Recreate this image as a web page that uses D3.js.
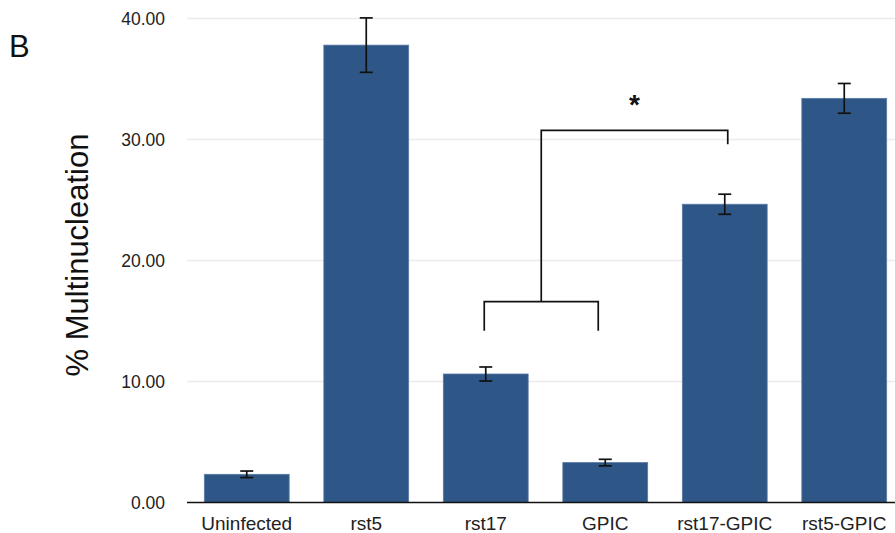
<!DOCTYPE html>
<html>
<head>
<meta charset="utf-8">
<script src="https://cdn.jsdelivr.net/npm/d3@7"></script>
<style>
  html, body { margin: 0; padding: 0; background: #fff; }
  svg { display: block; font-family: "Liberation Sans", Arial, Helvetica, sans-serif; }
</style>
</head>
<body>
<svg id="chart" width="895" height="533"></svg>
<script>
// Percentage of multinucleated cells per infection condition (mean ± error)
const categories = ["Uninfected", "rst5", "rst17", "GPIC", "rst17-GPIC", "rst5-GPIC"];
const means      = [2.33, 37.8, 10.62, 3.30, 24.65, 33.4];
const errors     = [0.27, 2.25, 0.58, 0.27, 0.83, 1.23];
const yTicks     = [0, 10, 20, 30, 40];

// Significance bracket: rst17 & GPIC grouped, compared against rst17-GPIC
const bracketGroup = ["rst17", "GPIC"];
const bracketTarget = "rst17-GPIC";
const bracketLevels = { groupLeg: 14.2, groupTop: 16.6, top: 30.75, targetLeg: 29.6, star: 33.8 };
const bracketLabel = "*";

const svg = d3.select("#chart");

const x = d3.scaleBand()
  .domain(categories)
  .range([187, 904])
  .paddingInner(0.29)
  .paddingOuter(0.145);

const y = d3.scaleLinear()
  .domain([0, 40])
  .range([502.5, 18.5]);

// Horizontal grid lines
svg.append("g")
  .selectAll("line")
  .data(yTicks.filter(d => d > 0))
  .join("line")
  .attr("x1", 187).attr("x2", 895)
  .attr("y1", d => y(d)).attr("y2", d => y(d))
  .attr("stroke", "#ebebeb")
  .attr("stroke-width", 1.5);

// Y axis labels
const yAxis = d3.axisLeft(y).tickValues(yTicks).tickFormat(d3.format(".2f")).tickSize(0).tickPadding(0);
const yg = svg.append("g").attr("transform", "translate(165,0)").call(yAxis);
yg.select(".domain").remove();
yg.selectAll("text")
  .attr("font-size", 17.5)
  .attr("fill", "#222")
  .attr("font-family", "Liberation Sans, Arial, sans-serif")
  .attr("dy", "0.36em");

// Bars
svg.append("g")
  .selectAll("rect")
  .data(categories)
  .join("rect")
  .attr("x", d => x(d))
  .attr("width", x.bandwidth())
  .attr("y", (d, i) => y(means[i]))
  .attr("height", (d, i) => y(0) - y(means[i]))
  .attr("fill", "#2e5787")
  .attr("stroke", "#5a7ba5")
  .attr("stroke-width", 0.8);

// Error bars
const eb = svg.append("g").attr("stroke", "#111").attr("stroke-width", 1.7).attr("fill", "none");
categories.forEach((c, i) => {
  const cx = x(c) + x.bandwidth() / 2;
  const hi = y(means[i] + errors[i]);
  const lo = y(means[i] - errors[i]);
  eb.append("line").attr("x1", cx).attr("x2", cx).attr("y1", hi).attr("y2", lo);
  eb.append("line").attr("x1", cx - 6.5).attr("x2", cx + 6.5).attr("y1", hi).attr("y2", hi);
  eb.append("line").attr("x1", cx - 6.5).attr("x2", cx + 6.5).attr("y1", lo).attr("y2", lo);
});

// X axis baseline
svg.append("line")
  .attr("x1", 187).attr("x2", 895)
  .attr("y1", y(0)).attr("y2", y(0))
  .attr("stroke", "#111").attr("stroke-width", 1.5);

// X axis labels
const xAxis = d3.axisBottom(x).tickSize(0).tickPadding(0);
const xg = svg.append("g").attr("transform", `translate(0,${y(0)})`).call(xAxis);
xg.select(".domain").remove();
xg.selectAll("text")
  .attr("font-size", 19)
  .attr("fill", "#222")
  .attr("font-family", "Liberation Sans, Arial, sans-serif")
  .attr("dy", 0)
  .attr("y", 27);

// Significance bracket
const cxOf = c => x(c) + x.bandwidth() / 2;
const gL = cxOf(bracketGroup[0]) - 1.5;
const gR = cxOf(bracketGroup[1]) - 7;
const gMid = gL + (gR - gL) / 2;
const tX = cxOf(bracketTarget) + 3;
const bracketPath = d3.path();
bracketPath.moveTo(gL, y(bracketLevels.groupLeg));
bracketPath.lineTo(gL, y(bracketLevels.groupTop));
bracketPath.lineTo(gR, y(bracketLevels.groupTop));
bracketPath.lineTo(gR, y(bracketLevels.groupLeg));
bracketPath.moveTo(gMid, y(bracketLevels.groupTop));
bracketPath.lineTo(gMid, y(bracketLevels.top));
bracketPath.lineTo(tX, y(bracketLevels.top));
bracketPath.lineTo(tX, y(bracketLevels.targetLeg));
svg.append("path")
  .attr("d", bracketPath.toString())
  .attr("fill", "none")
  .attr("stroke", "#111")
  .attr("stroke-width", 1.7);

svg.append("text")
  .attr("x", (gMid + tX) / 2)
  .attr("y", y(bracketLevels.star) + 20)
  .attr("text-anchor", "middle")
  .attr("font-size", 28)
  .attr("font-weight", "bold")
  .attr("fill", "#111")
  .text(bracketLabel);

// Y axis title
svg.append("text")
  .attr("transform", "translate(88,255) rotate(-90)")
  .attr("text-anchor", "middle")
  .attr("font-size", 31)
  .attr("fill", "#111")
  .text("% Multinucleation");

// Panel letter
svg.append("text")
  .attr("x", 9)
  .attr("y", 57)
  .attr("font-size", 31)
  .attr("fill", "#111")
  .text("B");
</script>
</body>
</html>
